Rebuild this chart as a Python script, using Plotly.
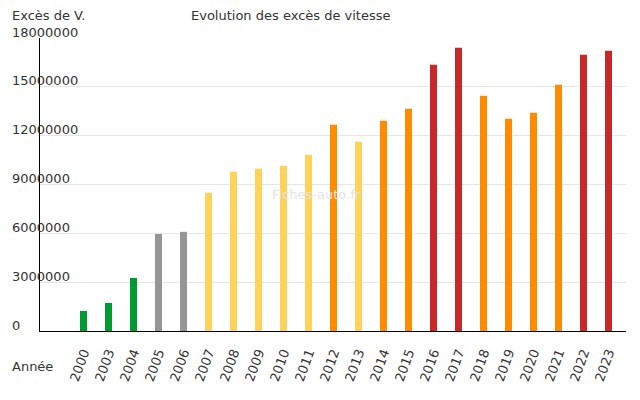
import plotly.graph_objects as go

years = ["2000", "2003", "2004", "2005", "2006", "2007", "2008", "2009", "2010", "2011",
         "2012", "2013", "2014", "2015", "2016", "2017", "2018", "2019", "2020", "2021",
         "2022", "2023"]
exces = [1230000, 1720000, 3260000, 5960000, 6090000, 8490000, 9780000, 9960000, 10150000,
         10820000, 12670000, 11620000, 12910000, 13650000, 16360000, 17400000, 14450000,
         13040000, 13410000, 15130000, 16970000, 17220000]
GREEN, GRAY, YELLOW, ORANGE, RED = "#009a33", "#959595", "#ffd35a", "#ff8c00", "#c82828"
bar_colors = [GREEN, GREEN, GREEN, GRAY, GRAY, YELLOW, YELLOW, YELLOW, YELLOW, YELLOW,
              ORANGE, YELLOW, ORANGE, ORANGE, RED, RED, ORANGE, ORANGE, ORANGE, ORANGE,
              RED, RED]
y_ticks = [0, 3000000, 6000000, 9000000, 12000000, 15000000, 18000000]

FONT = "DejaVu Sans, Verdana, sans-serif"
TXT = "#333333"

fig = go.Figure(go.Bar(
    x=years, y=exces, marker=dict(color=bar_colors, line=dict(width=0)),
    width=0.28, hoverinfo="x+y"))

annotations = []
for v in y_ticks:
    annotations.append(dict(x=0, xref="paper", xanchor="left", xshift=-30,
                            y=v, yref="y", yanchor="middle", yshift=6,
                            text=str(v), showarrow=False,
                            font=dict(family=FONT, size=13, color=TXT)))
annotations += [
    dict(x=0, xref="paper", xanchor="left", xshift=-30, y=1, yref="paper",
         yanchor="middle", yshift=23, text="Excès de V.", showarrow=False,
         font=dict(family=FONT, size=13, color=TXT)),
    dict(x=0, xref="paper", xanchor="left", xshift=149, y=1, yref="paper",
         yanchor="middle", yshift=23, text="Evolution des excès de vitesse", showarrow=False,
         font=dict(family=FONT, size=13, color=TXT)),
    dict(x=0, xref="paper", xanchor="left", xshift=-30, y=0, yref="paper",
         yanchor="middle", yshift=-35, text="Année", showarrow=False,
         font=dict(family=FONT, size=13, color=TXT)),
    dict(x=0.5, xref="paper", xanchor="center", y=0.5, yref="paper",
         yanchor="middle", yshift=-10, xshift=-17, text="Fiches-auto.fr", showarrow=False,
         font=dict(family=FONT, size=13, color="#e4e4e4")),
]

fig.update_layout(
    width=640, height=400,
    margin=dict(l=40, r=14, t=38, b=69, pad=0),
    paper_bgcolor="white", plot_bgcolor="white",
    showlegend=False,
    annotations=annotations,
    font=dict(family=FONT, size=13, color=TXT),
    xaxis=dict(type="category", range=[-1.74, 21.7], showgrid=False,
               showline=True, linecolor="black", linewidth=1,
               ticks="outside", ticklen=8, tickcolor="rgba(0,0,0,0)",
               tickangle=-70, tickfont=dict(family=FONT, size=13, color=TXT),
               zeroline=False, automargin=False),
    yaxis=dict(range=[0, 18000000], tickvals=y_ticks, showticklabels=False,
               showgrid=True, gridcolor="#e6e6e6", gridwidth=1,
               showline=True, linecolor="black", linewidth=1,
               zeroline=False, automargin=False),
)

fig.write_html("out.html", config={"displayModeBar": False},
               post_script="document.body.style.margin='0';")
